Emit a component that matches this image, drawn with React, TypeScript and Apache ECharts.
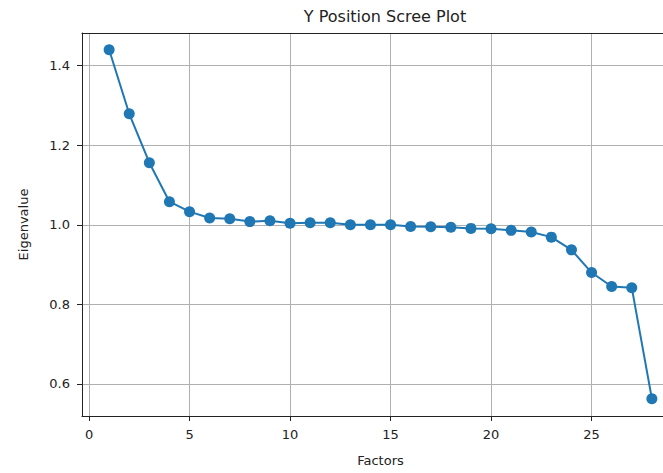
import React, { useEffect, useRef } from "react";
import * as echarts from "echarts";

const factors = [1,2,3,4,5,6,7,8,9,10,11,12,13,14,15,16,17,18,19,20,21,22,23,24,25,26,27,28];
const eigenvalues = [1.440,1.279,1.156,1.058,1.033,1.017,1.015,1.008,1.010,1.004,1.005,1.005,1.000,1.000,1.000,0.996,0.995,0.994,0.991,0.990,0.986,0.982,0.969,0.937,0.880,0.845,0.842,0.563];
const xTicks = [0,5,10,15,20,25];
const yTicks = [0.6,0.8,1.0,1.2,1.4];

const FONT = "DejaVu Sans";
const X_MIN = -0.35;
const X_MAX = 29.35;

export default function App() {
  const ref = useRef<HTMLDivElement>(null);
  useEffect(() => {
    if (!ref.current) return;
    const chart = echarts.init(ref.current, undefined, { renderer: "svg" });
    chart.setOption({
      animation: false,
      backgroundColor: "#ffffff",
      title: {
        text: "Y Position Scree Plot",
        left: 380,
        top: 3,
        textAlign: "center",
        textStyle: { fontFamily: FONT, fontSize: 16, fontWeight: "normal", color: "#222" },
      },
      grid: {
        left: 82,
        top: 33,
        right: 121,
        bottom: 57,
        show: false,
      },
      xAxis: [
        {
          type: "value",
          min: X_MIN,
          max: X_MAX,
          name: "Factors",
          nameLocation: "middle",
          nameGap: 38,
          nameTextStyle: { fontFamily: FONT, fontSize: 13, color: "#222" },
          axisLine: { show: true, onZero: false, lineStyle: { color: "#222", width: 1 } },
          axisTick: { show: true, inside: false, length: 5, customValues: xTicks, lineStyle: { color: "#222" } },
          axisLabel: { customValues: xTicks, fontFamily: FONT, fontSize: 13, color: "#222", margin: 12 },
          splitLine: { show: true, lineStyle: { color: "#b0b0b0", width: 1 } },
        },
        {
          type: "value",
          position: "top",
          min: X_MIN,
          max: X_MAX,
          axisLine: { show: true, onZero: false, lineStyle: { color: "#222", width: 1 } },
          axisTick: { show: false },
          axisLabel: { show: false },
          splitLine: { show: false },
        },
      ],
      yAxis: {
        type: "value",
        min: 0.5195,
        max: 1.482,
        name: "Eigenvalue",
        nameLocation: "middle",
        nameGap: 52,
        nameTextStyle: { fontFamily: FONT, fontSize: 13, color: "#222" },
        axisLine: { show: true, onZero: false, lineStyle: { color: "#222", width: 1 } },
        axisTick: { show: true, inside: false, length: 5, customValues: yTicks, lineStyle: { color: "#222" } },
        axisLabel: {
          customValues: yTicks,
          fontFamily: FONT,
          fontSize: 13,
          color: "#222",
          margin: 12,
          formatter: (v: number) => v.toFixed(1),
        },
        splitLine: { show: true, lineStyle: { color: "#b0b0b0", width: 1 } },
      },
      series: [
        {
          type: "line",
          xAxisIndex: 0,
          data: factors.map((f, i) => [f, eigenvalues[i]]),
          symbol: "circle",
          symbolSize: 11,
          lineStyle: { color: "#1f77b4", width: 2 },
          itemStyle: { color: "#1f77b4" },
          z: 3,
        },
      ],
    });
    return () => chart.dispose();
  }, []);
  return (
    <div style={{ position: "fixed", left: 0, top: 0, width: 663, height: 473, overflow: "hidden", background: "#fff" }}>
      <div ref={ref} style={{ width: 800, height: 473 }} />
    </div>
  );
}
